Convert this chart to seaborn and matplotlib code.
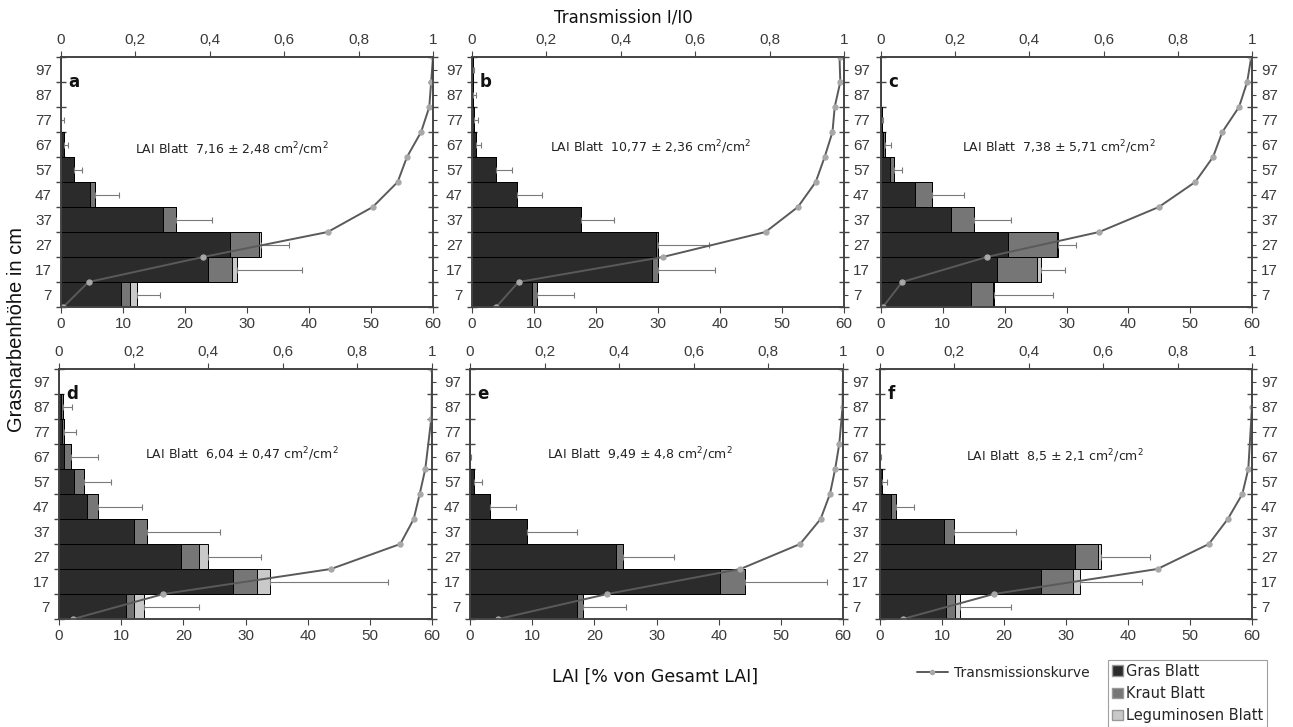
import numpy as np
import pandas as pd
import matplotlib.pyplot as plt
import seaborn as sns
from matplotlib.patches import Patch
from matplotlib.lines import Line2D

sns.set_style("ticks")
plt.rcParams['font.family'] = ['DejaVu Sans']

# Höhenklassen (Mitte) und Klassengrenzen in cm
hoehe = [7, 17, 27, 37, 47, 57, 67, 77, 87, 97]
grenzen = [2, 12, 22, 32, 42, 52, 62, 72, 82, 92, 102]

# LAI-Anteile [% von Gesamt LAI] je Höhenklasse (unten -> oben)
gras_a = [9.6, 23.7, 27.3, 16.4, 4.7, 2.1, 0.5, 0.05, 0, 0]
kraut_a = [1.5, 3.9, 4.6, 2.1, 0.8, 0, 0, 0, 0, 0]
leg_a = [1.1, 0.8, 0.4, 0, 0, 0, 0, 0, 0, 0]
sd_a = [3.7, 10.5, 4.4, 5.9, 3.8, 1.3, 0.7, 0.45, 0, 0]
trans_a = [0.006, 0.074, 0.382, 0.717, 0.838, 0.905, 0.930, 0.968, 0.990, 0.995, 1.0]

gras_b = [9.7, 29.0, 29.6, 17.6, 7.3, 3.8, 0.65, 0.3, 0.2, 0.1]
kraut_b = [0.8, 1.05, 0.45, 0, 0, 0, 0, 0, 0, 0]
leg_b = [0, 0, 0, 0, 0, 0, 0, 0, 0, 0]
sd_b = [5.95, 9.15, 8.15, 5.3, 4.0, 2.7, 0.85, 0.67, 0.4, 0.3]
trans_b = [0.065, 0.125, 0.513, 0.789, 0.876, 0.924, 0.948, 0.969, 0.975, 0.99, 0.988]

gras_c = [14.6, 18.7, 20.6, 11.4, 5.5, 1.4, 0.4, 0.15, 0, 0]
kraut_c = [3.5, 6.5, 7.8, 3.7, 2.7, 0.7, 0.3, 0, 0, 0]
leg_c = [0.1, 0.6, 0.3, 0, 0, 0, 0, 0, 0, 0]
sd_c = [9.6, 4.0, 2.9, 5.9, 5.3, 1.3, 0.9, 0.25, 0, 0]
trans_c = [0.005, 0.057, 0.285, 0.588, 0.749, 0.847, 0.895, 0.920, 0.965, 0.987, 0.998]

gras_d = [10.8, 28.0, 19.6, 12.0, 4.5, 2.4, 0.8, 0.43, 0.3, 0]
kraut_d = [1.3, 3.9, 2.9, 2.2, 1.7, 1.7, 1.2, 0.32, 0.3, 0]
leg_d = [1.6, 2.0, 1.4, 0, 0, 0, 0, 0, 0, 0]
sd_d = [8.8, 19.1, 8.6, 11.7, 7.1, 4.2, 4.3, 2.05, 1.5, 0]
trans_d = [0.038, 0.28, 0.729, 0.915, 0.951, 0.967, 0.982, 0.998, 0.999, 0.998, 1.0]

gras_e = [17.2, 40.2, 23.5, 9.2, 3.2, 0.7, 0.05, 0, 0, 0]
kraut_e = [1.05, 4.1, 1.1, 0, 0, 0, 0, 0, 0, 0]
leg_e = [0, 0, 0, 0, 0, 0, 0, 0, 0, 0]
sd_e = [6.85, 13.1, 8.2, 8.0, 4.15, 1.3, 0.15, 0, 0, 0]
trans_e = [0.076, 0.368, 0.725, 0.885, 0.94, 0.965, 0.979, 0.99, 0.999, 0.999, 1.0]

gras_f = [10.6, 25.9, 31.4, 10.3, 1.7, 0.4, 0.05, 0, 0, 0]
kraut_f = [1.5, 5.3, 3.8, 1.7, 0.8, 0, 0, 0, 0, 0]
leg_f = [0.8, 1.0, 0.5, 0, 0, 0, 0, 0, 0, 0]
sd_f = [8.15, 10.0, 7.8, 9.9, 3.0, 0.8, 0.1, 0, 0, 0]
trans_f = [0.061, 0.306, 0.746, 0.884, 0.935, 0.974, 0.99, 1.0, 1.0, 1.0, 1.0]

lai_texte = ["7,16 ± 2,48", "10,77 ± 2,36", "7,38 ± 5,71",
             "6,04 ± 0,47", "9,49 ± 4,8", "8,5 ± 2,1"]
buchstaben = ["a", "b", "c", "d", "e", "f"]

panels = [
    (gras_a, kraut_a, leg_a, sd_a, trans_a),
    (gras_b, kraut_b, leg_b, sd_b, trans_b),
    (gras_c, kraut_c, leg_c, sd_c, trans_c),
    (gras_d, kraut_d, leg_d, sd_d, trans_d),
    (gras_e, kraut_e, leg_e, sd_e, trans_e),
    (gras_f, kraut_f, leg_f, sd_f, trans_f),
]

# Position der Achsen in Pixel (links, oben, rechts, unten)
boxen = [(61, 57, 433, 307), (472, 57, 844, 307), (881, 57, 1252, 307),
         (59, 369, 432, 619), (470, 369, 843, 619), (880, 369, 1252, 619)]
text_pos = [(0.46, 0.63), (0.48, 0.64), (0.48, 0.64),
            (0.49, 0.66), (0.456, 0.66), (0.47, 0.65)]
labels_links = [True, True, False, True, True, False]
labels_rechts = [False, True, True, False, True, True]

c_gras = '#2b2b2b'
c_kraut = '#767676'
c_leg = '#c9c9c9'
c_achse = '#444444'
tick_font = dict(family='Liberation Sans', size=11, color='#3a3a3a')

W, H = 1293, 727
fig = plt.figure(figsize=(W / 100, H / 100), dpi=100)

for i, (gras, kraut, leg, sd, trans) in enumerate(panels):
    l, t, r, b = boxen[i]
    ax = fig.add_axes([l / W, 1 - b / H, (r - l) / W, (b - t) / H])
    df = pd.DataFrame({'hoehe': hoehe, 'gras': gras, 'kraut': kraut, 'leg': leg, 'sd': sd})
    df['gk'] = df['gras'] + df['kraut']
    df['total'] = df['gk'] + df['leg']

    # gestapelte Balken: zuerst die Summe, dann darüber die Teilsummen
    for col, farbe in [('total', c_leg), ('gk', c_kraut), ('gras', c_gras)]:
        sns.barplot(data=df, x=col, y='hoehe', orient='h', native_scale=True,
                    width=1, color=farbe, saturation=1, edgecolor='black',
                    linewidth=0.7, ax=ax)

    m = df['sd'] > 0
    ax.errorbar(df.loc[m, 'total'], df.loc[m, 'hoehe'],
                xerr=[np.zeros(m.sum()), df.loc[m, 'sd']], fmt='none',
                ecolor='#7a7a7a', elinewidth=0.8, capsize=2, capthick=0.8)

    ax.set_xlim(0, 60)
    ax.set_ylim(2, 102)
    ax.set_xlabel('')
    ax.set_ylabel('')
    ax.set_xticks(range(0, 61, 10))
    ax.set_yticks(hoehe)
    ax.set_yticks(grenzen, minor=True)
    ax.tick_params(axis='y', which='major', left=False, right=True,
                   labelleft=labels_links[i], labelright=labels_rechts[i],
                   length=3, color=c_achse)
    ax.tick_params(axis='y', which='minor', left=True, right=True,
                   direction='inout', length=7, color=c_achse, width=1)
    ax.tick_params(axis='x', which='major', length=4, color=c_achse)
    for lab in ax.get_xticklabels() + ax.get_yticklabels():
        lab.set(**tick_font)
    for s in ax.spines.values():
        s.set_color(c_achse)
        s.set_linewidth(1.2)

    # Transmissionskurve auf oberer Achse
    ax2 = ax.twiny()
    tdf = pd.DataFrame({'trans': trans, 'grenze': grenzen})
    sns.lineplot(data=tdf, x='trans', y='grenze', sort=False, ax=ax2,
                 color='#5a5a5a', linewidth=1.4, marker='o', markersize=3.8,
                 markerfacecolor='#a8a8a8', markeredgecolor='#a8a8a8')
    ax2.set_xlim(0, 1)
    ax2.set_ylim(2, 102)
    ax2.set_xlabel('')
    ax2.set_ylabel('')
    ax2.set_xticks([0, 0.2, 0.4, 0.6, 0.8, 1])
    ax2.set_xticklabels(['0', '0,2', '0,4', '0,6', '0,8', '1'])
    ax2.tick_params(axis='x', length=4, color=c_achse)
    for lab in ax2.get_xticklabels():
        lab.set(**tick_font)
    for s in ax2.spines.values():
        s.set_color(c_achse)
        s.set_linewidth(1.2)

    ax.text(0.02, 0.9, buchstaben[i], transform=ax.transAxes, fontsize=12,
            fontweight='bold', color='#111111', ha='left', va='center')
    tx, ty = text_pos[i]
    ax.text(tx, ty, 'LAI Blatt  ' + lai_texte[i] + r' cm$^2$/cm$^2$',
            transform=ax.transAxes, fontsize=9, color='#222222',
            ha='center', va='center')

fig.text(623 / W, 1 - 17 / H, 'Transmission I/I0', fontsize=12, ha='center',
         va='center', color='#111111')
fig.text(655 / W, 1 - 677 / H, 'LAI [% von Gesamt LAI]', fontsize=12.5,
         ha='center', va='center', color='#111111')
fig.text(17 / W, 1 - 330 / H, 'Grasnarbenhöhe in cm', fontsize=14.5,
         family='Liberation Sans', rotation=90, ha='center', va='center',
         color='#111111')

linie = Line2D([], [], color='#5a5a5a', linewidth=1.4, marker='o',
               markersize=3, markevery=[1], markerfacecolor='#a8a8a8',
               markeredgecolor='#a8a8a8')
fig.legend(handles=[linie], labels=['Transmissionskurve'], loc='center left',
           bbox_to_anchor=(910 / W, 1 - 673 / H), frameon=False, fontsize=10,
           handlelength=2.2, handletextpad=0.5, borderpad=0)

patches = [Patch(facecolor=c_gras, edgecolor='#999999'),
           Patch(facecolor=c_kraut, edgecolor='#999999'),
           Patch(facecolor=c_leg, edgecolor='#999999')]
leg = fig.legend(handles=patches, labels=['Gras Blatt', 'Kraut Blatt', 'Leguminosen Blatt'],
                 loc='upper left', bbox_to_anchor=(1108 / W, 1 - 660 / H),
                 frameon=True, fancybox=False, fontsize=10.5, handlelength=0.75,
                 handleheight=0.75, handletextpad=0.25, borderpad=0.25,
                 labelspacing=0.5, borderaxespad=0)
leg.get_frame().set_edgecolor('#888888')
leg.get_frame().set_linewidth(0.8)

fig.savefig('out.png', dpi=100)
